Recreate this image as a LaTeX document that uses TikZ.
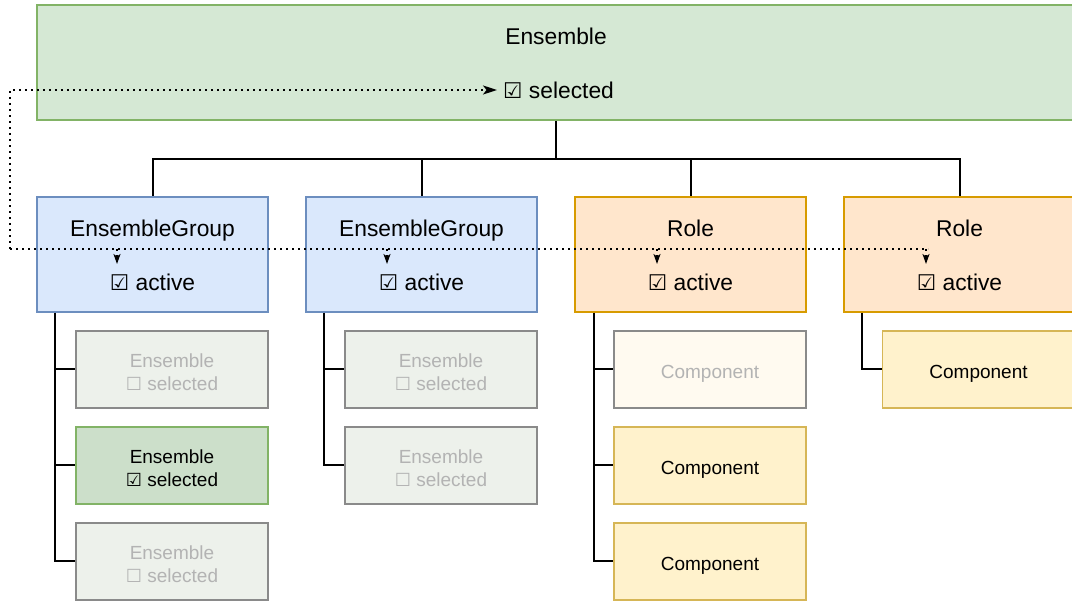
\documentclass[tikz,border=0pt]{standalone}
\usepackage{fontspec}
\setmainfont{Liberation Sans}
\newfontfamily\symfont{DejaVu Sans}
\usetikzlibrary{arrows.meta}
\definecolor{topfill}{HTML}{D5E8D4}
\definecolor{topline}{HTML}{82B366}
\definecolor{selfill}{HTML}{CCDFCA}
\definecolor{bluefill}{HTML}{DAE8FC}
\definecolor{blueline}{HTML}{6C8EBF}
\definecolor{orfill}{HTML}{FFE6CC}
\definecolor{orline}{HTML}{D79B00}
\definecolor{compfill}{HTML}{FFF2CC}
\definecolor{compline}{HTML}{D6B656}
\definecolor{fadefill}{HTML}{EDF1EB}
\definecolor{fadecfill}{HTML}{FFFAF0}
\definecolor{fadeline}{HTML}{8A8A8A}
\definecolor{fadetext}{HTML}{B3B3B3}
\newcommand{\chkon}{{\symfont\scalebox{0.95}{☑}}}
\newcommand{\chkoff}{{\symfont\scalebox{0.95}{☐}}}
\tikzset{
  box/.style={draw, line width=1.8pt, inner sep=0pt, rectangle},
  bigbox/.style={box, minimum width=231pt, minimum height=115pt},
  smallbox/.style={box, minimum width=192pt, minimum height=77pt},
  topbox/.style={box, fill=topfill, draw=topline},
  groupbox/.style={bigbox, fill=bluefill, draw=blueline},
  rolebox/.style={bigbox, fill=orfill, draw=orline},
  ensoff/.style={smallbox, fill=fadefill, draw=fadeline},
  enson/.style={smallbox, fill=selfill, draw=topline},
  compon/.style={smallbox, fill=compfill, draw=compline},
  compoff/.style={smallbox, fill=fadecfill, draw=fadeline},
  smalllabel/.style={align=center, inner sep=0pt, font=\fontsize{19}{23}\selectfont},
  fade/.style={text=fadetext},
  biglabel/.style={font=\fontsize{22.8}{26}\selectfont, inner sep=1pt},
  tree/.style={line width=2pt, draw=black},
  dots/.style={line width=1.7pt, dash pattern=on 1.7pt off 4.3pt},
  tip/.style={-{Stealth[length=10pt, width=7pt, inset=2.5pt]}},
  bigtip/.style={-{Stealth[length=14pt, width=9pt, inset=3.5pt]}},
}
\begin{document}
\begin{tikzpicture}[x=1pt, y=-1pt]
\useasboundingbox (0,0) rectangle (1072,601);
\clip (0,0) rectangle (1072,601);

% top box
\node[topbox, minimum width=1038pt, minimum height=115pt] (top) at (556,62.5) {};
\node[biglabel, anchor=base] (toptitle) at (556,45) {Ensemble};
\node[biglabel, anchor=west] (sel) at (502,90) {\chkon\ selected};

% level 2
\node[groupbox] (g1) at (152.5,254.5) {};
\node[groupbox] (g2) at (421.5,254.5) {};
\node[rolebox] (g3) at (690.5,254.5) {};
\node[rolebox] (g4) at (959.5,254.5) {};
\node[biglabel, anchor=base] (t1) at (152.5,237) {EnsembleGroup};
\node[biglabel, anchor=base] (t2) at (421.5,237) {EnsembleGroup};
\node[biglabel, anchor=base] (t3) at (690.5,237) {Role};
\node[biglabel, anchor=base] (t4) at (959.5,237) {Role};
\node[biglabel] (act1) at (152.5,282) {\chkon\ active};
\node[biglabel] (act2) at (421.5,282) {\chkon\ active};
\node[biglabel] (act3) at (690.5,282) {\chkon\ active};
\node[biglabel] (act4) at (959.5,282) {\chkon\ active};

% children
\node[ensoff] (c11) at (172,369.5) {};
\node[enson]  (c12) at (172,465.5) {};
\node[ensoff] (c13) at (172,561.5) {};
\node[ensoff] (c21) at (441,369.5) {};
\node[ensoff] (c22) at (441,465.5) {};
\node[compoff] (c31) at (710,369.5) {};
\node[compon]  (c32) at (710,465.5) {};
\node[compon]  (c33) at (710,561.5) {};
\node[compon]  (c41) at (978.5,369.5) {};
\node[smalllabel, fade] (l11) at ([yshift=-2.5pt]c11.center) {Ensemble\\\chkoff\ selected};
\node[smalllabel]       (l12) at ([yshift=-2.5pt]c12.center) {Ensemble\\\chkon\ selected};
\node[smalllabel, fade] (l13) at ([yshift=-2.5pt]c13.center) {Ensemble\\\chkoff\ selected};
\node[smalllabel, fade] (l21) at ([yshift=-2.5pt]c21.center) {Ensemble\\\chkoff\ selected};
\node[smalllabel, fade] (l22) at ([yshift=-2.5pt]c22.center) {Ensemble\\\chkoff\ selected};
\node[smalllabel, fade, anchor=base] (l31) at ([yshift=-9pt]c31.center) {Component};
\node[smalllabel, anchor=base]       (l32) at ([yshift=-9pt]c32.center) {Component};
\node[smalllabel, anchor=base]       (l33) at ([yshift=-9pt]c33.center) {Component};
\node[smalllabel, anchor=base]       (l41) at ([yshift=-9pt]c41.center) {Component};

% tree connectors
\coordinate (hub) at ([yshift=-38pt]top.south);
\draw[tree] (top.south) -- (hub);
\draw[tree] (hub) -| (g1.north);
\draw[tree] (hub) -| (g2.north);
\draw[tree] (hub) -| (g3.north);
\draw[tree] (hub) -| (g4.north);

\coordinate (v1) at ([xshift=19pt]g1.south west);
\coordinate (v2) at ([xshift=19pt]g2.south west);
\coordinate (v3) at ([xshift=19.5pt]g3.south west);
\coordinate (v4) at ([xshift=19pt]g4.south west);
\draw[tree] (v1) |- (c13.west);
\draw[tree] (v1) |- (c11.west);
\draw[tree] (v1) |- (c12.west);
\draw[tree] (v2) |- (c22.west);
\draw[tree] (v2) |- (c21.west);
\draw[tree] (v3) |- (c33.west);
\draw[tree] (v3) |- (c31.west);
\draw[tree] (v3) |- (c32.west);
\draw[tree] (v4) |- (c41.west);

% dotted signal lines
\coordinate (d0) at (10,249);
\coordinate (dend) at (928,249);
\coordinate (a1) at (117,249);
\coordinate (a2) at (387,249);
\coordinate (a3) at (657,249);
\coordinate (a4) at (926,249);
\draw[dots, bigtip] (d0) |- ([xshift=-5pt]sel.west);
\draw[dots] (d0) -- (dend);
\draw[dots, tip] (a1) -- ++(0,15);
\draw[dots, tip] (a2) -- ++(0,15);
\draw[dots, tip] (a3) -- ++(0,15);
\draw[dots, tip] (a4) -- ++(0,15);
\end{tikzpicture}
\end{document}
